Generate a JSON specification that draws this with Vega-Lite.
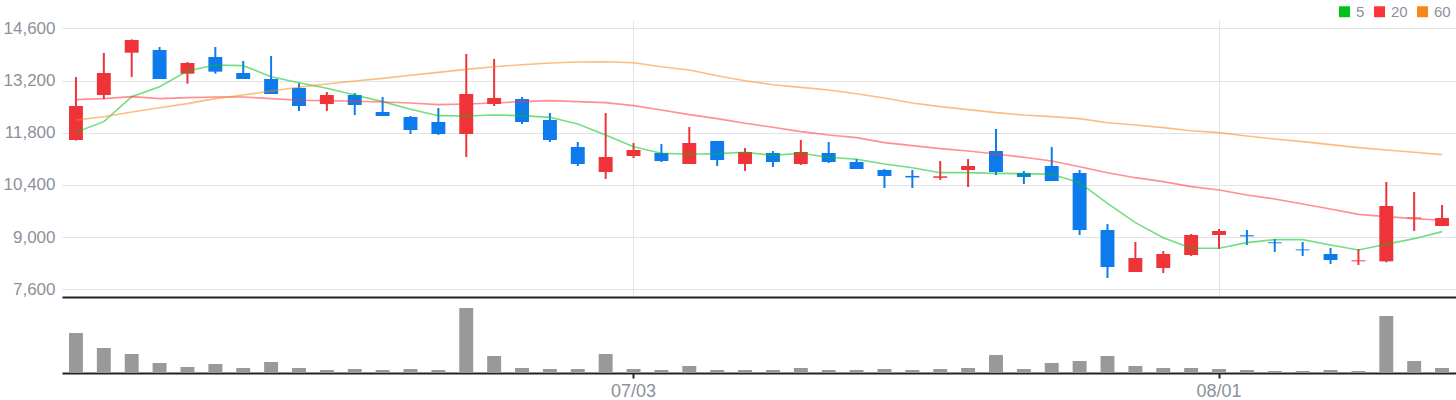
{
  "$schema": "https://vega.github.io/schema/vega-lite/v6.json",
  "padding": {"left": 3, "top": 4, "right": 0, "bottom": 0},
  "config": {
    "view": {"stroke": null},
    "font": "Liberation Sans",
    "concat": {"spacing": 0},
    "axis": {"labelFont": "Liberation Sans", "title": null}
  },
  "data": {
    "values": [
      {"d": "06/04", "o": 11604, "h": 13294, "l": 11590, "c": 12516, "v": 120000, "m5": 11810, "m20": 12687, "m60": 12141},
      {"d": "06/05", "o": 12811, "h": 13938, "l": 12704, "c": 13401, "v": 75000, "m5": 12097, "m20": 12714, "m60": 12230},
      {"d": "06/07", "o": 13946, "h": 14304, "l": 13294, "c": 14286, "v": 57000, "m5": 12767, "m20": 12767, "m60": 12355},
      {"d": "06/10", "o": 14018, "h": 14098, "l": 13240, "c": 13240, "v": 30000, "m5": 13034, "m20": 12714, "m60": 12471},
      {"d": "06/11", "o": 13383, "h": 13696, "l": 13115, "c": 13669, "v": 18000, "m5": 13454, "m20": 12740, "m60": 12579},
      {"d": "06/12", "o": 13830, "h": 14098, "l": 13383, "c": 13437, "v": 27000, "m5": 13615, "m20": 12757, "m60": 12714},
      {"d": "06/13", "o": 13401, "h": 13723, "l": 13240, "c": 13240, "v": 15000, "m5": 13598, "m20": 12757, "m60": 12811},
      {"d": "06/14", "o": 13240, "h": 13857, "l": 12838, "c": 12838, "v": 33000, "m5": 13303, "m20": 12714, "m60": 12919},
      {"d": "06/17", "o": 12999, "h": 13124, "l": 12382, "c": 12516, "v": 15000, "m5": 13142, "m20": 12670, "m60": 13017},
      {"d": "06/18", "o": 12570, "h": 12892, "l": 12382, "c": 12811, "v": 9000, "m5": 12990, "m20": 12660, "m60": 13106},
      {"d": "06/19", "o": 12811, "h": 12865, "l": 12275, "c": 12543, "v": 12000, "m5": 12811, "m20": 12642, "m60": 13187},
      {"d": "06/20", "o": 12355, "h": 12757, "l": 12248, "c": 12248, "v": 9000, "m5": 12633, "m20": 12624, "m60": 13258},
      {"d": "06/21", "o": 12221, "h": 12248, "l": 11765, "c": 11872, "v": 12000, "m5": 12427, "m20": 12597, "m60": 13339},
      {"d": "06/24", "o": 12087, "h": 12462, "l": 11738, "c": 11765, "v": 9000, "m5": 12257, "m20": 12553, "m60": 13419},
      {"d": "06/25", "o": 11765, "h": 13911, "l": 11148, "c": 12838, "v": 195000, "m5": 12248, "m20": 12570, "m60": 13499},
      {"d": "06/26", "o": 12570, "h": 13777, "l": 12516, "c": 12731, "v": 51000, "m5": 12275, "m20": 12597, "m60": 13571},
      {"d": "06/27", "o": 12704, "h": 12757, "l": 12033, "c": 12087, "v": 15000, "m5": 12257, "m20": 12633, "m60": 13624},
      {"d": "06/28", "o": 12141, "h": 12328, "l": 11551, "c": 11604, "v": 12000, "m5": 12212, "m20": 12660, "m60": 13669},
      {"d": "07/01", "o": 11416, "h": 11551, "l": 10907, "c": 10961, "v": 12000, "m5": 12033, "m20": 12633, "m60": 13696},
      {"d": "07/02", "o": 10746, "h": 12328, "l": 10558, "c": 11148, "v": 57000, "m5": 11738, "m20": 12606, "m60": 13705},
      {"d": "07/03", "o": 11175, "h": 11524, "l": 11121, "c": 11336, "v": 12000, "m5": 11425, "m20": 12526, "m60": 13678},
      {"d": "07/04", "o": 11256, "h": 11497, "l": 11014, "c": 11041, "v": 9000, "m5": 11247, "m20": 12409, "m60": 13571},
      {"d": "07/05", "o": 10961, "h": 11953, "l": 10961, "c": 11524, "v": 21000, "m5": 11220, "m20": 12284, "m60": 13481},
      {"d": "07/08", "o": 11577, "h": 11577, "l": 10907, "c": 11068, "v": 9000, "m5": 11238, "m20": 12177, "m60": 13329},
      {"d": "07/09", "o": 10961, "h": 11390, "l": 10773, "c": 11283, "v": 9000, "m5": 11274, "m20": 12052, "m60": 13195},
      {"d": "07/10", "o": 11256, "h": 11310, "l": 10880, "c": 11014, "v": 9000, "m5": 11193, "m20": 11945, "m60": 13088},
      {"d": "07/11", "o": 10961, "h": 11604, "l": 10934, "c": 11283, "v": 15000, "m5": 11247, "m20": 11828, "m60": 13017},
      {"d": "07/12", "o": 11256, "h": 11551, "l": 10988, "c": 11014, "v": 9000, "m5": 11140, "m20": 11738, "m60": 12946},
      {"d": "07/15", "o": 11014, "h": 11095, "l": 10826, "c": 10826, "v": 9000, "m5": 11086, "m20": 11667, "m60": 12847},
      {"d": "07/16", "o": 10800, "h": 10826, "l": 10317, "c": 10639, "v": 12000, "m5": 10961, "m20": 11533, "m60": 12731},
      {"d": "07/17", "o": 10640, "h": 10800, "l": 10317, "c": 10600, "v": 9000, "m5": 10862, "m20": 11453, "m60": 12597},
      {"d": "07/18", "o": 10590, "h": 11041, "l": 10531, "c": 10630, "v": 12000, "m5": 10728, "m20": 11372, "m60": 12499},
      {"d": "07/19", "o": 10800, "h": 11095, "l": 10344, "c": 10907, "v": 15000, "m5": 10728, "m20": 11310, "m60": 12420},
      {"d": "07/22", "o": 11310, "h": 11899, "l": 10666, "c": 10746, "v": 54000, "m5": 10710, "m20": 11229, "m60": 12338},
      {"d": "07/23", "o": 10719, "h": 10773, "l": 10424, "c": 10612, "v": 12000, "m5": 10701, "m20": 11140, "m60": 12275},
      {"d": "07/24", "o": 10907, "h": 11416, "l": 10504, "c": 10504, "v": 30000, "m5": 10683, "m20": 11041, "m60": 12230},
      {"d": "07/25", "o": 10719, "h": 10800, "l": 9056, "c": 9190, "v": 36000, "m5": 10460, "m20": 10889, "m60": 12177},
      {"d": "07/26", "o": 9190, "h": 9351, "l": 7903, "c": 8198, "v": 51000, "m5": 9905, "m20": 10728, "m60": 12069},
      {"d": "07/29", "o": 8064, "h": 8869, "l": 8064, "c": 8439, "v": 21000, "m5": 9387, "m20": 10594, "m60": 12007},
      {"d": "07/30", "o": 8171, "h": 8627, "l": 8037, "c": 8547, "v": 15000, "m5": 8985, "m20": 10487, "m60": 11935},
      {"d": "07/31", "o": 8520, "h": 9083, "l": 8493, "c": 9056, "v": 15000, "m5": 8699, "m20": 10353, "m60": 11854},
      {"d": "08/01", "o": 9056, "h": 9217, "l": 8681, "c": 9164, "v": 12000, "m5": 8699, "m20": 10263, "m60": 11801},
      {"d": "08/02", "o": 9050, "h": 9190, "l": 8788, "c": 9020, "v": 9000, "m5": 8851, "m20": 10129, "m60": 11711},
      {"d": "08/05", "o": 8860, "h": 8949, "l": 8601, "c": 8835, "v": 6000, "m5": 8932, "m20": 10022, "m60": 11631},
      {"d": "08/06", "o": 8670, "h": 8869, "l": 8493, "c": 8645, "v": 6000, "m5": 8932, "m20": 9888, "m60": 11560},
      {"d": "08/07", "o": 8547, "h": 8708, "l": 8279, "c": 8386, "v": 9000, "m5": 8788, "m20": 9753, "m60": 11479},
      {"d": "08/08", "o": 8350, "h": 8681, "l": 8252, "c": 8375, "v": 6000, "m5": 8654, "m20": 9610, "m60": 11399},
      {"d": "08/09", "o": 8350, "h": 10478, "l": 8323, "c": 9834, "v": 171000, "m5": 8806, "m20": 9548, "m60": 11336},
      {"d": "08/12", "o": 9500, "h": 10210, "l": 9164, "c": 9525, "v": 36000, "m5": 8958, "m20": 9494, "m60": 11274},
      {"d": "08/13", "o": 9298, "h": 9861, "l": 9298, "c": 9512, "v": 15000, "m5": 9146, "m20": 9450, "m60": 11211}
    ]
  },
  "vconcat": [
    {
      "width": 1394,
      "height": 277,
      "encoding": {
        "x": {
          "field": "d",
          "type": "ordinal",
          "sort": null,
          "scale": {"type": "band", "paddingInner": 0.5, "paddingOuter": 0.25},
          "axis": {
            "values": ["07/03", "08/01"],
            "labels": false,
            "ticks": false,
            "domain": true,
            "domainColor": "#222222",
            "domainWidth": 2,
            "grid": true,
            "gridColor": "#e2e4e8",
            "title": null
          }
        }
      },
      "layer": [
        {
          "mark": {"type": "rule", "strokeWidth": 2},
          "encoding": {
            "y": {
              "field": "l",
              "type": "quantitative",
              "scale": {"domain": [7393, 14823], "nice": false, "zero": false},
              "axis": {
                "values": [7600, 9000, 10400, 11800, 13200, 14600],
                "format": ",.0f",
                "ticks": false,
                "domain": false,
                "labelPadding": 7,
                "labelFontSize": 17,
                "labelColor": "#8c919b",
                "gridColor": "#e2e4e8",
                "title": null
              }
            },
            "y2": {"field": "h"},
            "color": {"condition": {"test": "datum.c >= datum.o", "value": "#ee3439"}, "value": "#0e7bec"}
          }
        },
        {
          "mark": {"type": "bar"},
          "encoding": {
            "y": {"field": "o", "type": "quantitative"},
            "y2": {"field": "c"},
            "color": {"condition": {"test": "datum.c >= datum.o", "value": "#ee3439"}, "value": "#0e7bec"}
          }
        },
        {
          "transform": [{"fold": ["m5", "m20", "m60"], "as": ["ma", "val"]}],
          "mark": {"type": "line", "strokeWidth": 1.6, "opacity": 0.55},
          "encoding": {
            "y": {"field": "val", "type": "quantitative"},
            "color": {
              "field": "ma",
              "type": "nominal",
              "scale": {"domain": ["m5", "m20", "m60"], "range": ["#00c21a", "#ff333a", "#f7861c"]},
              "legend": {
                "title": null,
                "orient": "none",
                "legendX": 1275,
                "legendY": -16,
                "direction": "horizontal",
                "symbolType": "square",
                "symbolSize": 121,
                "symbolStrokeWidth": 0,
                "symbolOpacity": 1,
                "labelFontSize": 15,
                "labelColor": "#8c919b",
                "labelOffset": 4,
                "columnPadding": 7,
                "labelExpr": "{'m5':'5','m20':'20','m60':'60'}[datum.label]",
                "encode": {
                  "symbols": {"update": {"fill": {"scale": "color", "field": "value"}, "opacity": {"value": 1}}}
                }
              }
            }
          }
        }
      ]
    },
    {
      "width": 1394,
      "height": 75,
      "mark": {"type": "bar", "color": "#999999"},
      "encoding": {
        "x": {
          "field": "d",
          "type": "ordinal",
          "sort": null,
          "scale": {"type": "band", "paddingInner": 0.5, "paddingOuter": 0.25},
          "axis": {
            "values": ["07/03", "08/01"],
            "labelFontSize": 18,
            "labelColor": "#8c919b",
            "labelAngle": 0,
            "labelPadding": 4,
            "tickColor": "#222222",
            "tickSize": 5,
            "tickWidth": 2,
            "domainColor": "#222222",
            "domainWidth": 2,
            "grid": false,
            "title": null
          }
        },
        "y": {
          "field": "v",
          "type": "quantitative",
          "scale": {"domain": [0, 225000], "nice": false},
          "axis": null
        }
      }
    }
  ]
}
